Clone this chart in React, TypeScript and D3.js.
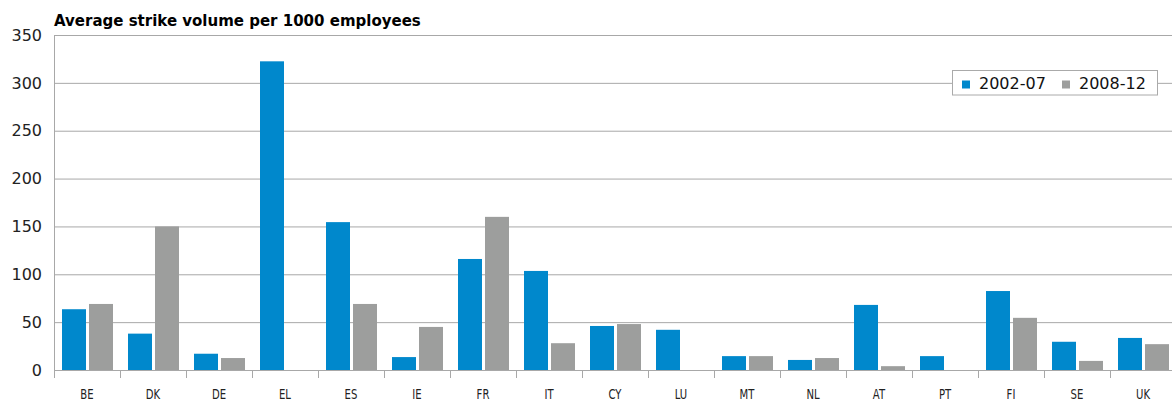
import React from "react";
import * as d3 from "d3";

const categories = ["BE", "DK", "DE", "EL", "ES", "IE", "FR", "IT", "CY", "LU", "MT", "NL", "AT", "PT", "FI", "SE", "UK"];
const series = ["2002-07", "2008-12"];
const values2002 = [63.5, 38, 17, 322.5, 154.5, 13.5, 116, 103.5, 46, 42, 14.5, 10.5, 68, 14.5, 82.5, 29.5, 33.5];
const values2008 = [69, 150, 12.5, 0, 69, 45, 160, 28, 48, 0, 14.5, 12.5, 4, 0, 54.5, 9.5, 27];
const yTicks = [0, 50, 100, 150, 200, 250, 300, 350];
const colors = ["#0088CC", "#9D9E9D"];
const title = "Average strike volume per 1000 employees";

const W = 1172;
const H = 404;
const left = 54;
const right = 1176;
const top = 35;
const bottom = 370;

export default function App() {
  const x = d3.scaleBand<string>().domain(categories).range([left, right]).padding(0);
  const x1 = d3.scaleBand<string>().domain(series).range([8, 59]).paddingInner(3 / 27).paddingOuter(0);
  const y = d3.scaleLinear().domain([0, 350]).range([bottom, top]);
  const data = [values2002, values2008];
  const gridColor = "#a8a8a8";
  const tickFont = "'DejaVu Sans', sans-serif";
  const labelScale = 0.72;

  return (
    <svg width={W} height={H} style={{ position: "absolute", left: 0, top: 0, background: "#fff" }}>
      <text x={left} y={26} fontFamily={tickFont} fontWeight="bold" fontSize={15} fill="#000">
        {title}
      </text>
      {yTicks.map((t) => (
        <g key={t}>
          <line x1={left} x2={right} y1={y(t) + 0.5} y2={y(t) + 0.5} stroke={gridColor} strokeWidth={1} />
          <text x={42} y={y(t)} dy="0.36em" textAnchor="end" fontFamily={tickFont} fontSize={16} fill="#222">
            {t}
          </text>
        </g>
      ))}
      <line x1={left + 0.5} x2={left + 0.5} y1={top} y2={bottom + 8} stroke={gridColor} strokeWidth={1} />
      {categories.map((c, i) => {
        const cx = (x(c) as number) + x.bandwidth() / 2;
        return (
          <g key={c}>
            <line x1={(x(c) as number) + x.bandwidth() + 0.5} x2={(x(c) as number) + x.bandwidth() + 0.5} y1={bottom} y2={bottom + 8} stroke={gridColor} strokeWidth={1} />
            <text
              transform={`translate(${cx}, 398.5) scale(${labelScale}, 1)`}
              textAnchor="middle"
              fontFamily={tickFont}
              fontSize={14}
              fill="#222"
            >
              {c}
            </text>
            {series.map((s, k) => {
              const v = data[k][i];
              if (v <= 0) return null;
              return (
                <rect
                  key={s}
                  x={(x(c) as number) + (x1(s) as number)}
                  width={x1.bandwidth()}
                  y={y(v)}
                  height={bottom - y(v)}
                  fill={colors[k]}
                />
              );
            })}
          </g>
        );
      })}
      <g>
        <rect x={952.5} y={70.5} width={205} height={24.5} fill="#fff" stroke="#aaa" strokeWidth={1} />
        {series.map((s, k) => (
          <g key={s} transform={`translate(${962 + k * 100}, 0)`}>
            <rect x={0} y={80.5} width={8} height={8} fill={colors[k]} />
            <text x={17} y={88.5} fontFamily={tickFont} fontSize={16} fill="#111">
              {s}
            </text>
          </g>
        ))}
      </g>
    </svg>
  );
}
